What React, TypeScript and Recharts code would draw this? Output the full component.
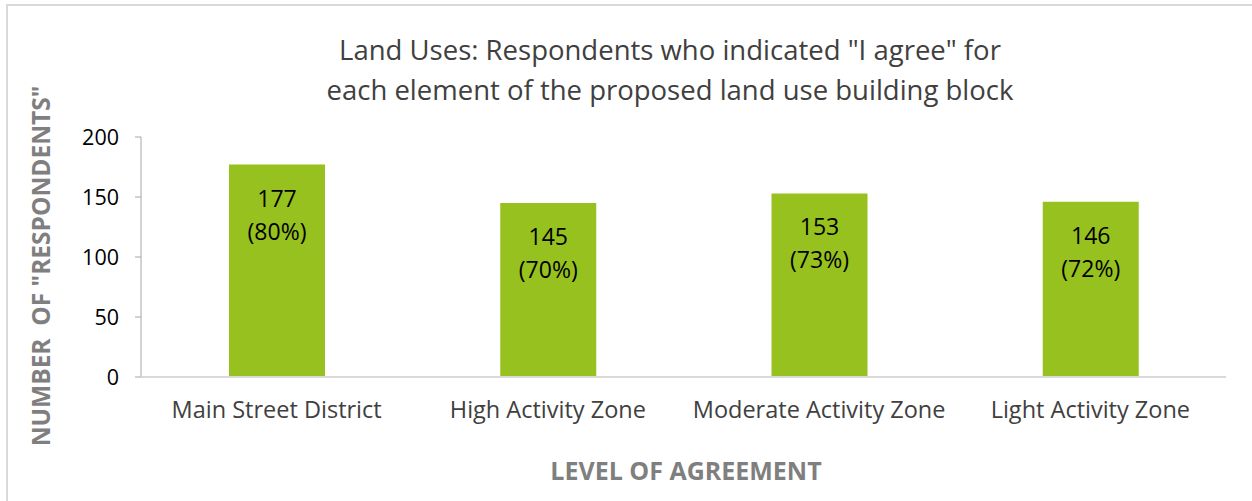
import { BarChart, Bar, XAxis, YAxis, LabelList } from 'recharts';

const categories = ['Main Street District', 'High Activity Zone', 'Moderate Activity Zone', 'Light Activity Zone'];
const respondents = [177, 145, 153, 146];
const percents = [80, 70, 73, 72];
const yTicks = [0, 50, 100, 150, 200];

const data = categories.map((name, i) => ({
  name,
  count: respondents[i],
  pct: percents[i],
}));

const FONT = '"Open Sans", "Noto Sans", sans-serif';

function BarLabel(props: any) {
  const { x, y, width, index } = props;
  const cx = x + width / 2;
  const d = data[index];
  return (
    <text x={cx} y={y + 34} textAnchor="middle" fill="#000" fontSize={23} fontFamily={FONT}>
      <tspan x={cx} dy="0.35em">{d.count}</tspan>
      <tspan x={cx} dy="1.43em">({d.pct}%)</tspan>
    </text>
  );
}

export default function App() {
  return (
    <div style={{ position: 'absolute', left: 0, top: 0, width: 1252, height: 501, overflow: 'hidden', background: '#fff', fontFamily: FONT }}>
      <div style={{ position: 'absolute', left: 6, top: 4, width: 1300, height: 600, border: '2px solid #d9d9d9' }} />
      <div style={{ position: 'absolute', left: 0, width: 1340, top: 30, textAlign: 'center', fontSize: 27.5, lineHeight: '40px', color: '#404040' }}>
        Land Uses: Respondents who indicated "I agree" for<br />
        each element of the proposed land use building block
      </div>
      <div
        style={{
          position: 'absolute', left: 40, top: 266, transform: 'translate(-50%, -50%) rotate(-90deg)',
          whiteSpace: 'nowrap', fontSize: 24.5, fontWeight: 700, color: '#7f7f7f',
        }}
      >
        NUMBER&nbsp; OF "RESPONDENTS"
      </div>
      <div
        style={{
          position: 'absolute', left: 686, top: 470, transform: 'translate(-50%, -50%)',
          whiteSpace: 'nowrap', fontSize: 25, fontWeight: 700, color: '#7f7f7f',
        }}
      >
        LEVEL OF AGREEMENT
      </div>
      <div style={{ position: 'absolute', left: 0, top: 0 }}>
        <BarChart width={1252} height={501} data={data} margin={{ top: 137, right: 26, bottom: 94, left: 0 }}>
          <YAxis
            width={141}
            domain={[0, 200]}
            ticks={yTicks}
            interval={0}
            axisLine={{ stroke: '#a6a6a6' }}
            tickLine={{ stroke: '#a6a6a6' }}
            tickSize={6}
            tickMargin={16}
            tick={{ fill: '#000', fontSize: 21.5, fontFamily: FONT }}
          />
          <XAxis
            dataKey="name"
            height={30}
            axisLine={{ stroke: '#d9d9d9', strokeWidth: 2 }}
            tickLine={false}
            tickSize={0}
            tickMargin={24}
            interval={0}
            tick={{ fill: '#404040', fontSize: 23.5, fontFamily: FONT }}
          />
          <Bar dataKey="count" fill="#97c11f" barSize={96} isAnimationActive={false}>
            <LabelList dataKey="count" content={BarLabel} />
          </Bar>
        </BarChart>
      </div>
    </div>
  );
}
